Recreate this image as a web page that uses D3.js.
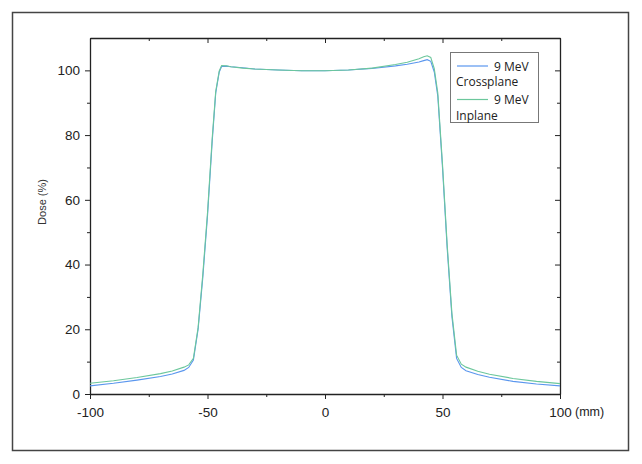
<!DOCTYPE html>
<html>
<head>
<meta charset="utf-8">
<script src="https://cdn.jsdelivr.net/npm/d3@7"></script>
<style>
	body { margin: 0; background: #fff; }
	#chart { width: 642px; height: 464px; }
	.axis text { font-family: 'Liberation Sans', Arial, sans-serif; font-size: 13.5px; fill: #222; }
	.axis path, .axis line { stroke: #222; }
	.legend text { font-family: 'Open Sans', 'Noto Sans', sans-serif; font-size: 12px; fill: #222; }
</style>
</head>
<body>
<div id="chart"></div>
<script>
// position across the field (mm)
const positions = [-100, -90, -80, -70, -65, -60, -58, -56, -54, -52, -50, -48, -46.5, -45, -44, -42, -40, -35, -30, -20, -10, 0, 10, 20, 30, 35, 40, 42, 43.5, 45, 46.5, 48, 50, 52, 54, 56, 58, 60, 65, 70, 80, 90, 100];

// relative dose (%)
const crossplane = [2.5, 3.3, 4.3, 5.4, 6.2, 7.3, 8.2, 10.5, 20, 36, 55, 78, 93, 99.5, 101.2, 101.3, 101.1, 100.8, 100.4, 100.1, 99.9, 99.9, 100.1, 100.6, 101.4, 101.9, 102.6, 103, 103.3, 102.8, 99.5, 92, 70, 45, 24, 11, 8.2, 7.2, 6, 5.2, 3.9, 3.1, 2.5];
const inplane = [3.3, 4.1, 5.1, 6.3, 7.1, 8.3, 9, 11, 20.5, 37, 56, 79, 93.5, 99.8, 101.5, 101.4, 101.1, 100.7, 100.4, 100.1, 99.9, 99.9, 100.1, 100.7, 101.8, 102.5, 103.6, 104.2, 104.5, 104, 100.5, 93, 71, 46, 25, 12, 9.2, 8.3, 7, 6.1, 4.8, 3.9, 3.2];

const seriesNames = ['9 MeV Crossplane', '9 MeV Inplane'];
const seriesColors = ['#5a96ee', '#6cc79c'];

const xMajor = [-100, -50, 0, 50, 100];
const xMinor = [-75, -25, 25, 75];
const yMajor = [0, 20, 40, 60, 80, 100];
const yMinor = [10, 30, 50, 70, 90];

const margin = {top: 38, right: 82, bottom: 70, left: 90};
const width = 642 - margin.left - margin.right;
const height = 464 - margin.top - margin.bottom;

const svg = d3.select('#chart').append('svg')
	.attr('width', 642)
	.attr('height', 464);

// outer frame
svg.append('rect')
	.attr('x', 12.5)
	.attr('y', 12.5)
	.attr('width', 616)
	.attr('height', 438)
	.attr('fill', 'none')
	.attr('stroke', '#444')
	.attr('stroke-width', 1.5);

const g = svg.append('g')
	.attr('transform', `translate(${margin.left}, ${margin.top})`);

const xScale = d3.scaleLinear().domain([-100, 100]).range([0, width]);
const yScale = d3.scaleLinear().domain([0, 110]).range([height, 0]);

const fmt = d => String(d);

// bottom axis
g.append('g')
	.attr('class', 'axis')
	.attr('transform', `translate(0, ${height})`)
	.call(d3.axisBottom(xScale).tickValues(xMajor).tickSize(5).tickSizeOuter(0).tickPadding(8).tickFormat(fmt))
	.call(a => a.select('.domain').attr('stroke-width', 1.3));
g.append('g')
	.attr('class', 'axis')
	.attr('transform', `translate(0, ${height})`)
	.call(d3.axisBottom(xScale).tickValues(xMinor).tickSize(3).tickSizeOuter(0).tickFormat(''))
	.call(a => a.select('.domain').remove());

// left axis
g.append('g')
	.attr('class', 'axis')
	.call(d3.axisLeft(yScale).tickValues(yMajor).tickSize(5).tickSizeOuter(0).tickPadding(5).tickFormat(fmt))
	.call(a => a.select('.domain').attr('stroke-width', 1.3));
g.append('g')
	.attr('class', 'axis')
	.call(d3.axisLeft(yScale).tickValues(yMinor).tickSize(3).tickSizeOuter(0).tickFormat(''))
	.call(a => a.select('.domain').remove());

// top and right mirror axes, ticks inward
g.append('g')
	.attr('class', 'axis')
	.call(d3.axisTop(xScale).tickValues(xMajor).tickSize(-5).tickSizeOuter(0).tickFormat(''))
	.call(a => a.select('.domain').attr('stroke-width', 1.3));
g.append('g')
	.attr('class', 'axis')
	.call(d3.axisTop(xScale).tickValues(xMinor).tickSize(-3).tickSizeOuter(0).tickFormat(''))
	.call(a => a.select('.domain').remove());
g.append('g')
	.attr('class', 'axis')
	.attr('transform', `translate(${width}, 0)`)
	.call(d3.axisRight(yScale).tickValues(yMajor).tickSize(-5).tickSizeOuter(0).tickFormat(''))
	.call(a => a.select('.domain').attr('stroke-width', 1.3));
g.append('g')
	.attr('class', 'axis')
	.attr('transform', `translate(${width}, 0)`)
	.call(d3.axisRight(yScale).tickValues(yMinor).tickSize(-3).tickSizeOuter(0).tickFormat(''))
	.call(a => a.select('.domain').remove());

// axis titles
g.append('text')
	.attr('transform', `translate(-44, ${height / 2 - 14}) rotate(-90)`)
	.attr('text-anchor', 'middle')
	.style('font-family', "'Liberation Sans', Arial, sans-serif")
	.style('font-size', '11px')
	.attr('fill', '#333')
	.text('Dose (%)');

g.append('text')
	.attr('x', width + 15)
	.attr('y', height + 22)
	.style('font-family', "'Liberation Sans', Arial, sans-serif")
	.style('font-size', '12.5px')
	.attr('fill', '#222')
	.text('(mm)');

// profiles
const series = [crossplane, inplane];
const line = d3.line()
	.x((d, i) => xScale(positions[i]))
	.y(d => yScale(d));

g.selectAll('.profile')
	.data(series)
	.enter()
	.append('path')
	.attr('class', 'profile')
	.attr('fill', 'none')
	.attr('stroke', (d, i) => seriesColors[i])
	.attr('stroke-width', 1.1)
	.attr('d', line);

// legend
const legend = svg.append('g').attr('class', 'legend');
legend.append('rect')
	.attr('x', 450.5)
	.attr('y', 52.5)
	.attr('width', 88)
	.attr('height', 70)
	.attr('fill', '#fff')
	.attr('stroke', '#777');

seriesNames.forEach((name, i) => {
	const y0 = 66 + i * 33.5;
	const [first, second] = [name.split(' ').slice(0, 2).join(' '), name.split(' ').slice(2).join(' ')];
	legend.append('line')
		.attr('x1', 457)
		.attr('x2', 488)
		.attr('y1', y0)
		.attr('y2', y0)
		.attr('stroke', seriesColors[i])
		.attr('stroke-width', 1.2);
	legend.append('text')
		.attr('x', 494)
		.attr('y', y0 + 4.5)
		.text(first);
	legend.append('text')
		.attr('x', 456)
		.attr('y', y0 + 20)
		.text(second);
});
</script>
</body>
</html>
